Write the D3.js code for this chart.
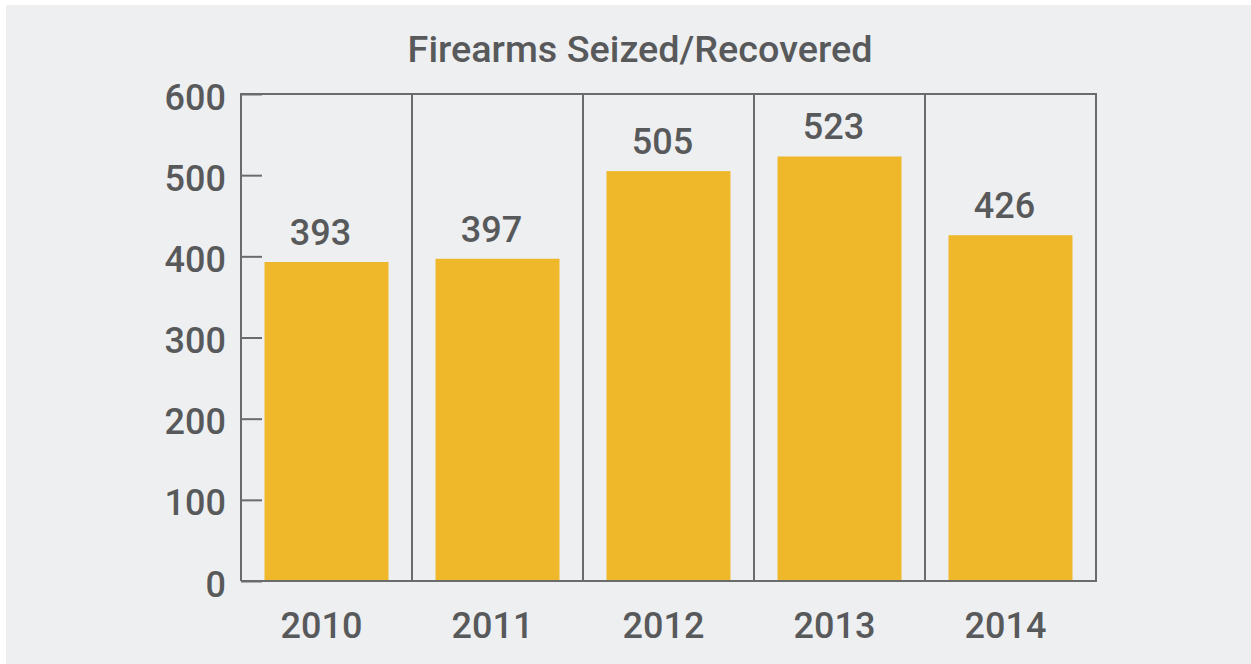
<!DOCTYPE html>
<html><head><meta charset="utf-8">
<script src="https://cdn.jsdelivr.net/npm/d3@7"></script>
<style>html,body{margin:0;padding:0;background:#fff;}svg{display:block;}</style>
</head><body>
<script>
const title = "Firearms Seized/Recovered";
const years = ["2010","2011","2012","2013","2014"];
const seized = [393, 397, 505, 523, 426];
const yTicks = [0, 100, 200, 300, 400, 500, 600];

const W = 1251, H = 664;
const textColor = "#58595b", lineColor = "#6a6b6d", barColor = "#eeb82a";
const font = "Roboto, 'Open Sans', sans-serif";

const svg = d3.select("body").append("svg").attr("width", W).attr("height", H);
svg.append("rect").attr("x", 6).attr("y", 5).attr("width", W - 6).attr("height", H - 5).attr("fill", "#eeeff1");

const pL = 241, pR = 1096, pT = 94, pB = 581;
const y = d3.scaleLinear().domain([0, 600]).range([pB, pT]);
const xCell = d3.scaleBand().domain(years).range([pL, pR]).padding(0);
const x = d3.scaleBand().domain(years).range([pL, pR]).paddingInner(0.275).paddingOuter(0.1375);

// bars
svg.append("g").selectAll("rect").data(years).join("rect")
  .attr("x", d => x(d)).attr("width", x.bandwidth())
  .attr("y", (d, i) => y(seized[i])).attr("height", (d, i) => y(0) - y(seized[i]))
  .attr("fill", barColor);

// frame + dividers
const g = svg.append("g").attr("stroke", lineColor).attr("stroke-width", 2).attr("fill", "none");
g.append("path").attr("d", `M${pL},${pB}V${pT}H${pR}V${pB}H${pL}`);
years.slice(1).forEach(d => {
  g.append("line").attr("x1", xCell(d)).attr("x2", xCell(d)).attr("y1", pT).attr("y2", pB);
});

// y axis
const yAxis = d3.axisLeft(y).tickValues(yTicks).tickSizeInner(-21).tickSizeOuter(0).tickPadding(15);
const ya = svg.append("g").attr("transform", `translate(${pL},0)`).call(yAxis);
ya.select(".domain").remove();
ya.selectAll(".tick line").attr("stroke", lineColor).attr("stroke-width", 2);
ya.selectAll(".tick text").attr("fill", textColor).attr("font-family", font).attr("font-weight", 500)
  .attr("font-size", 36).attr("dy", "0.42em");

// x labels
const xAxis = d3.axisBottom(xCell).tickSize(0).tickPadding(0);
const xa = svg.append("g").attr("transform", `translate(0,${pB})`).call(xAxis);
xa.select(".domain").remove();
xa.selectAll(".tick text").attr("fill", textColor).attr("font-family", font).attr("font-weight", 500)
  .attr("font-size", 36).attr("y", 57).attr("dy", 0).attr("dx", -5);

// value labels
svg.append("g").selectAll("text").data(years).join("text")
  .attr("x", d => x(d) + x.bandwidth() / 2 - 6)
  .attr("y", (d, i) => y(seized[i]) - 17)
  .attr("text-anchor", "middle").attr("fill", textColor)
  .attr("font-family", font).attr("font-weight", 500).attr("font-size", 36)
  .text((d, i) => seized[i]);

// title
const t = svg.append("text").attr("x", 640).attr("y", 62).attr("text-anchor", "middle")
  .attr("fill", textColor).attr("font-family", font).attr("font-weight", 500).attr("font-size", 37)
  .text(title);
const tw = t.node().getComputedTextLength();
if (tw > 0) t.attr("font-size", 37 * Math.min(1.08, Math.max(0.92, 465 / tw)));
</script>
</body></html>
